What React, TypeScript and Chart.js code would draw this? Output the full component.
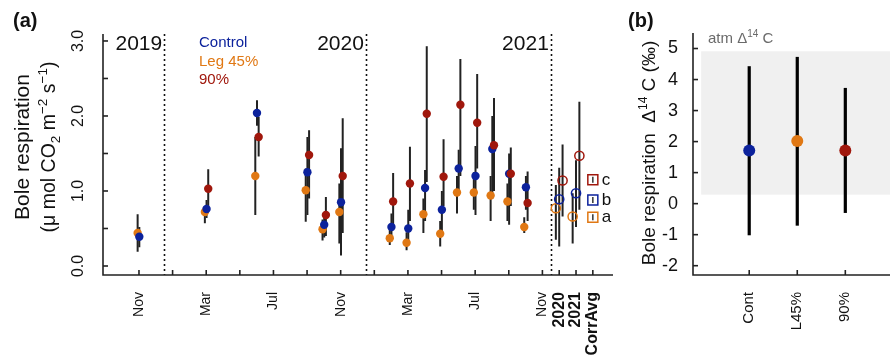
import React, { useEffect, useRef } from "react";
import { Chart, registerables } from "chart.js";

Chart.register(...registerables);

const FONT = '"Liberation Sans", Arial, Helvetica, sans-serif';
const BLUE = "#0c229c";
const ORANGE = "#e07814";
const RED = "#a0170c";
const INK = "#111111";

// ---------- Panel (a) data ----------
// month index: 0 = Nov 2019, 12 = Nov 2020, 24 = Nov 2021
const sampleMonths = [0, 4, 7, 10, 11, 12, 15, 16, 17, 18, 19, 20, 21, 22, 23];
const ctrl = [0.39, 0.76, 2.04, 1.25, 0.55, 0.85, 0.52, 0.5, 1.04, 0.75, 1.3, 1.2, 1.56, 1.23, 1.05];
const ctrlLo = [0.25, 0.64, 1.87, 0.68, 0.38, 0.14, 0.35, 0.3, 0.6, 0.4, 0.95, 0.68, 0.9, 0.55, 0.75];
const ctrlHi = [0.52, 0.88, 2.21, 1.72, 0.72, 1.57, 0.7, 0.75, 1.28, 1.0, 1.55, 1.6, 2.0, 1.5, 1.2];
const leg45 = [0.44, 0.72, 1.2, 1.01, 0.49, 0.72, 0.37, 0.31, 0.69, 0.43, 0.98, 0.98, 0.94, 0.86, 0.52];
const leg45Lo = [0.19, 0.57, 0.68, 0.59, 0.34, 0.3, 0.28, 0.21, 0.44, 0.26, 0.7, 0.75, 0.6, 0.6, 0.44];
const leg45Hi = [0.69, 0.8, 1.72, 1.3, 0.62, 1.1, 0.5, 0.45, 0.9, 0.6, 1.2, 1.25, 1.2, 1.1, 0.65];
const p90 = [null, 1.03, 1.72, 1.48, 0.68, 1.2, 0.86, 1.1, 2.03, 1.19, 2.15, 1.91, 1.61, 1.23, 0.84];
const p90Lo = [null, 0.78, 1.46, 0.9, 0.4, 0.44, 0.55, 0.6, 1.12, 0.8, 1.2, 1.3, 1.0, 0.8, 0.6];
const p90Hi = [null, 1.29, 1.99, 1.81, 0.92, 1.97, 1.24, 1.59, 2.93, 1.69, 2.76, 2.56, 2.24, 1.58, 1.26];

// corrected annual averages: 2020, 2021
const corrCols = [25, 26];
const corrCtrl = [0.89, 0.97];
const corrCtrlLo = [0.26, 0.52];
const corrCtrlHi = [1.31, 1.41];
const corrLeg = [0.77, 0.66];
const corrLegLo = [0.35, 0.3];
const corrLegHi = [1.08, 0.97];
const corrP90 = [1.14, 1.47];
const corrP90Lo = [0.66, 0.75];
const corrP90Hi = [1.62, 2.19];
const corrLetters = ["a", "b", "c"];
const corrLetterValues = [0.65, 0.88, 1.15];
const corrLetterColors = [ORANGE, BLUE, RED];

const xTickValues = [0, 2, 4, 6, 8, 10, 12, 14, 16, 18, 20, 22, 24, 25, 26, 27];
const xTickLabels = ["Nov", "", "Mar", "", "Jul", "", "Nov", "", "Mar", "", "Jul", "", "Nov", "2020", "2021", "CorrAvg"];
const yTicksLeft = [0, 0.5, 1, 1.5, 2, 2.5, 3];
const yLabelsLeft = [0, 1, 2, 3];
const yearLabels = ["2019", "2020", "2021"];
const yearBreaks = [1.5, 13.5, 24.5];
const legendLabels = ["Control", "Leg 45%", "90%"];
const legendColors = [BLUE, ORANGE, RED];

// ---------- Panel (b) data ----------
const rightCats = ["Cont", "L45%", "90%"];
const rightMean = [1.71, 2.02, 1.71];
const rightLo = [-1.02, -0.71, -0.3];
const rightHi = [4.43, 4.73, 3.73];
const rightColors = [BLUE, ORANGE, RED];
const atmBand = [0.29, 4.91];
const rightYTicks = [-2, -1, 0, 1, 2, 3, 4, 5];

type Seg = { t: string; size: number; dy?: number; weight?: string };

function richText(
  ctx: CanvasRenderingContext2D,
  segs: Seg[],
  x: number,
  y: number,
  rotated: boolean,
  align: "center" | "left",
  color: string
) {
  ctx.save();
  ctx.translate(x, y);
  if (rotated) ctx.rotate(-Math.PI / 2);
  const widths = segs.map((s) => {
    ctx.font = `${s.weight || "normal"} ${s.size}px ${FONT}`;
    return ctx.measureText(s.t).width;
  });
  const total = widths.reduce((a, b) => a + b, 0);
  let cx = align === "center" ? -total / 2 : 0;
  ctx.fillStyle = color;
  ctx.textAlign = "left";
  ctx.textBaseline = "alphabetic";
  segs.forEach((s, i) => {
    ctx.font = `${s.weight || "normal"} ${s.size}px ${FONT}`;
    ctx.fillText(s.t, cx, -(s.dy || 0));
    cx += widths[i];
  });
  ctx.restore();
}

function drawErrorBars(chart: any, width: number, color: string) {
  const ctx = chart.ctx as CanvasRenderingContext2D;
  const ys = chart.scales.y;
  ctx.save();
  ctx.strokeStyle = color;
  ctx.lineWidth = width;
  ctx.lineCap = "butt";
  chart.data.datasets.forEach((ds: any, i: number) => {
    const meta = chart.getDatasetMeta(i);
    meta.data.forEach((pt: any, j: number) => {
      const d = ds.data[j];
      if (d.lo == null || d.hi == null) return;
      ctx.beginPath();
      ctx.moveTo(pt.x, ys.getPixelForValue(d.lo));
      ctx.lineTo(pt.x, ys.getPixelForValue(d.hi));
      ctx.stroke();
    });
  });
  ctx.restore();
}

function buildSeries(xs: number[], vals: (number | null)[], lo: (number | null)[], hi: (number | null)[], jitter: number) {
  const out: any[] = [];
  xs.forEach((x, i) => {
    if (vals[i] == null) return;
    out.push({ x: x + jitter, y: vals[i], lo: lo[i], hi: hi[i] });
  });
  return out;
}

const leftPlugin = {
  id: "leftDecor",
  beforeDatasetsDraw(chart: any) {
    const ctx = chart.ctx as CanvasRenderingContext2D;
    const { top, bottom } = chart.chartArea;
    const xs = chart.scales.x;
    ctx.save();
    ctx.strokeStyle = INK;
    ctx.lineWidth = 1.6;
    ctx.setLineDash([2, 3]);
    yearBreaks.forEach((b) => {
      const x = Math.round(xs.getPixelForValue(b)) + 0.5;
      ctx.beginPath();
      ctx.moveTo(x, top);
      ctx.lineTo(x, bottom);
      ctx.stroke();
    });
    ctx.restore();
    drawErrorBars(chart, 2, "#222222");
  },
  afterDatasetsDraw(chart: any) {
    const ctx = chart.ctx as CanvasRenderingContext2D;
    const { left, right, top, bottom } = chart.chartArea;
    const xs = chart.scales.x;
    const ys = chart.scales.y;
    ctx.save();
    ctx.strokeStyle = "#222";
    ctx.lineWidth = 1.6;
    ctx.beginPath();
    ctx.moveTo(left, top);
    ctx.lineTo(left, bottom);
    ctx.lineTo(right, bottom);
    ctx.stroke();
    yTicksLeft.forEach((v) => {
      const y = ys.getPixelForValue(v);
      ctx.beginPath();
      ctx.moveTo(left, y);
      ctx.lineTo(left + 5, y);
      ctx.stroke();
    });
    xTickValues.forEach((v) => {
      const x = xs.getPixelForValue(v);
      ctx.beginPath();
      ctx.moveTo(x, bottom);
      ctx.lineTo(x, bottom - 5);
      ctx.stroke();
    });
    ctx.restore();

    // rotated y tick labels
    yLabelsLeft.forEach((v) => {
      richText(ctx, [{ t: v.toFixed(1), size: 16 }], 83, ys.getPixelForValue(v), true, "center", INK);
    });

    // year labels
    ctx.save();
    ctx.font = `21px ${FONT}`;
    ctx.fillStyle = INK;
    ctx.textAlign = "right";
    ctx.textBaseline = "alphabetic";
    yearLabels.forEach((t, i) => {
      ctx.fillText(t, xs.getPixelForValue(yearBreaks[i]) - 2, 50);
    });
    // legend
    ctx.font = `15px ${FONT}`;
    ctx.textAlign = "left";
    legendLabels.forEach((t, i) => {
      ctx.fillStyle = legendColors[i];
      ctx.fillText(t, 199, 47 + i * 18.5);
    });
    ctx.restore();

    // letters for corrected averages
    ctx.save();
    const bx = xs.getPixelForValue(27);
    corrLetters.forEach((L, i) => {
      const y = ys.getPixelForValue(corrLetterValues[i]);
      ctx.strokeStyle = corrLetterColors[i];
      ctx.lineWidth = 1.5;
      ctx.strokeRect(bx - 5, y - 5, 10, 10);
      ctx.strokeStyle = "#333";
      ctx.beginPath();
      ctx.moveTo(bx, y - 3);
      ctx.lineTo(bx, y + 3);
      ctx.stroke();
      ctx.fillStyle = INK;
      ctx.font = `17px ${FONT}`;
      ctx.textAlign = "left";
      ctx.textBaseline = "alphabetic";
      ctx.fillText(L, bx + 9, y + 5);
    });
    ctx.restore();

    // axis title
    const cy = 147;
    richText(ctx, [{ t: "Bole respiration", size: 21 }], 29, cy, true, "center", INK);
    richText(
      ctx,
      [
        { t: "(\u03bc mol CO", size: 19.5 },
        { t: "2", size: 13.5, dy: -5 },
        { t: " m", size: 19.5 },
        { t: "\u22122", size: 13.5, dy: 8 },
        { t: " s", size: 19.5 },
        { t: "\u22121", size: 13.5, dy: 8 },
        { t: ")", size: 19.5 },
      ],
      55,
      cy,
      true,
      "center",
      INK
    );
    richText(ctx, [{ t: "(a)", size: 20, weight: "bold" }], 13, 27, false, "left", INK);
  },
};

const rightPlugin = {
  id: "rightDecor",
  beforeDatasetsDraw(chart: any) {
    const ctx = chart.ctx as CanvasRenderingContext2D;
    const { right } = chart.chartArea;
    const xs = chart.scales.x;
    const ys = chart.scales.y;
    const x1 = xs.getPixelForValue(-1);
    const y1 = ys.getPixelForValue(atmBand[1]);
    const y2 = ys.getPixelForValue(atmBand[0]);
    ctx.save();
    ctx.fillStyle = "#f0f0f0";
    ctx.fillRect(x1, y1, right - x1, y2 - y1);
    ctx.restore();
    drawErrorBars(chart, 3.2, "#000000");
  },
  afterDatasetsDraw(chart: any) {
    const ctx = chart.ctx as CanvasRenderingContext2D;
    const { left, right, top, bottom } = chart.chartArea;
    const xs = chart.scales.x;
    const ys = chart.scales.y;
    ctx.save();
    ctx.strokeStyle = "#222";
    ctx.lineWidth = 1.6;
    ctx.beginPath();
    ctx.moveTo(left, top);
    ctx.lineTo(left, bottom);
    ctx.lineTo(right, bottom);
    ctx.stroke();
    rightYTicks.forEach((v) => {
      const y = ys.getPixelForValue(v);
      ctx.beginPath();
      ctx.moveTo(left, y);
      ctx.lineTo(left + 5, y);
      ctx.stroke();
    });
    rightCats.forEach((_, i) => {
      const x = xs.getPixelForValue(i);
      ctx.beginPath();
      ctx.moveTo(x, bottom);
      ctx.lineTo(x, bottom - 5);
      ctx.stroke();
    });
    ctx.restore();

    richText(
      ctx,
      [
        { t: "atm \u0394", size: 15 },
        { t: "14", size: 10, dy: 6 },
        { t: " C", size: 15 },
      ],
      88,
      43,
      false,
      "left",
      "#6a6a6a"
    );
    richText(
      ctx,
      [
        { t: "Bole respiration  \u0394", size: 19 },
        { t: "14", size: 12, dy: 8 },
        { t: " C (\u2030)", size: 19 },
      ],
      35,
      153,
      true,
      "center",
      INK
    );
    richText(ctx, [{ t: "(b)", size: 20, weight: "bold" }], 8, 27, false, "left", INK);
  },
};

export default function App() {
  const leftRef = useRef<HTMLCanvasElement | null>(null);
  const rightRef = useRef<HTMLCanvasElement | null>(null);

  useEffect(() => {
    const filled = (data: any[], color: string) => ({
      data,
      showLine: false,
      pointRadius: 4.2,
      pointHoverRadius: 4.2,
      pointBackgroundColor: color,
      pointBorderColor: color,
      pointBorderWidth: 0,
    });
    const open = (data: any[], color: string) => ({
      data,
      showLine: false,
      pointRadius: 4.6,
      pointHoverRadius: 4.6,
      pointBackgroundColor: "rgba(0,0,0,0)",
      pointBorderColor: color,
      pointBorderWidth: 1.5,
    });

    const left = new Chart(leftRef.current as HTMLCanvasElement, {
      type: "scatter",
      data: {
        datasets: [
          filled(buildSeries(sampleMonths, p90, p90Lo, p90Hi, 0.12), RED),
          filled(buildSeries(sampleMonths, ctrl, ctrlLo, ctrlHi, 0.02), BLUE),
          filled(buildSeries(sampleMonths, leg45, leg45Lo, leg45Hi, -0.08), ORANGE),
          open(buildSeries(corrCols, corrP90, corrP90Lo, corrP90Hi, 0.2), RED),
          open(buildSeries(corrCols, corrCtrl, corrCtrlLo, corrCtrlHi, 0.0), BLUE),
          open(buildSeries(corrCols, corrLeg, corrLegLo, corrLegHi, -0.2), ORANGE),
        ] as any,
      },
      options: {
        animation: false,
        responsive: false,
        maintainAspectRatio: false,
        layout: { padding: { top: 34, right: 7, left: 0, bottom: 0 } },
        plugins: { legend: { display: false }, tooltip: { enabled: false } },
        scales: {
          x: {
            type: "linear",
            min: -2.14,
            max: 28.2,
            grid: { display: false, drawTicks: false },
            border: { display: false },
            afterBuildTicks: (s: any) => {
              s.ticks = xTickValues.map((v) => ({ value: v }));
            },
            afterFit: (s: any) => {
              s.height = 83;
              s.paddingLeft = 0;
              s.paddingRight = 0;
            },
            ticks: {
              autoSkip: false,
              minRotation: 90,
              maxRotation: 90,
              padding: 17,
              color: INK,
              callback: (_v: any, i: number) => xTickLabels[i],
              font: (c: any) =>
                c.index >= 13
                  ? { family: FONT, size: 16, weight: "bold" }
                  : { family: FONT, size: 14 },
            },
          },
          y: {
            type: "linear",
            min: -0.12,
            max: 3.093,
            grid: { display: false },
            border: { display: false },
            ticks: { display: false },
            afterFit: (s: any) => {
              s.width = 103;
            },
          },
        },
      } as any,
      plugins: [leftPlugin],
    });

    const right = new Chart(rightRef.current as HTMLCanvasElement, {
      type: "scatter",
      data: {
        datasets: rightCats.map((_, i) => ({
          data: [{ x: i, y: rightMean[i], lo: rightLo[i], hi: rightHi[i] }],
          showLine: false,
          pointRadius: 6,
          pointHoverRadius: 6,
          pointBackgroundColor: rightColors[i],
          pointBorderColor: rightColors[i],
          pointBorderWidth: 0,
        })) as any,
      },
      options: {
        animation: false,
        responsive: false,
        maintainAspectRatio: false,
        layout: { padding: { top: 33, right: 0, left: 0, bottom: 0 } },
        plugins: { legend: { display: false }, tooltip: { enabled: false } },
        scales: {
          x: {
            type: "linear",
            min: -1.17,
            max: 2.93,
            grid: { display: false, drawTicks: false },
            border: { display: false },
            afterBuildTicks: (s: any) => {
              s.ticks = rightCats.map((_, i) => ({ value: i }));
            },
            afterFit: (s: any) => {
              s.height = 83;
              s.paddingLeft = 0;
              s.paddingRight = 0;
            },
            ticks: {
              autoSkip: false,
              minRotation: 90,
              maxRotation: 90,
              padding: 17,
              color: INK,
              callback: (_v: any, i: number) => rightCats[i],
              font: { family: FONT, size: 15 },
            },
          },
          y: {
            type: "linear",
            min: -2.3,
            max: 5.5,
            grid: { display: false, drawTicks: false },
            border: { display: false },
            afterBuildTicks: (s: any) => {
              s.ticks = rightYTicks.map((v) => ({ value: v }));
            },
            afterFit: (s: any) => {
              s.width = 73;
            },
            ticks: {
              padding: 15,
              color: INK,
              font: { family: FONT, size: 18 },
              callback: (v: any) => String(v),
            },
          },
        },
      } as any,
      plugins: [rightPlugin],
    });

    return () => {
      left.destroy();
      right.destroy();
    };
  }, []);

  return (
    <div style={{ position: "fixed", left: 0, top: 0, width: 896, height: 358, background: "#ffffff", overflow: "hidden" }}>
      <canvas ref={leftRef} width={620} height={358} style={{ position: "absolute", left: 0, top: 0, display: "block" }} />
      <canvas ref={rightRef} width={276} height={358} style={{ position: "absolute", left: 620, top: 0, display: "block" }} />
    </div>
  );
}
